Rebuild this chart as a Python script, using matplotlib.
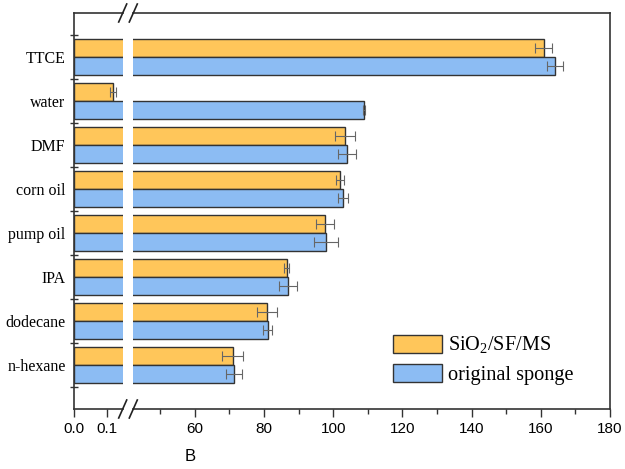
import matplotlib
matplotlib.use("Agg")
import matplotlib.pyplot as plt
from matplotlib.lines import Line2D
import numpy as np

# categories listed top to bottom
categories = ["TTCE", "water", "DMF", "corn oil", "pump oil", "IPA", "dodecane", "n-hexane"]
sio2 = [160.8, 0.12, 103.3, 101.9, 97.7, 86.6, 80.8, 70.9]
sio2_err = [2.4, 0.009, 2.9, 1.1, 2.6, 0.7, 2.9, 3.0]
orig = [164.1, 108.8, 104.1, 102.8, 97.9, 87.0, 81.0, 71.2]
orig_err = [2.3, 0.3, 2.6, 1.4, 3.4, 2.6, 1.25, 2.3]

orange = "#FFC65A"
blue = "#8CBCF3"
edge = "#333333"
ecol = "#666666"

plt.rcParams["xtick.labelsize"] = 11
plt.rcParams["font.family"] = "Liberation Sans"
plt.rcParams["mathtext.fontset"] = "custom"
plt.rcParams["mathtext.rm"] = "Liberation Serif"

n = len(categories)
y = np.arange(n)[::-1]
h = 0.41

fig = plt.figure(figsize=(6.25, 4.69), dpi=100)
bot, hgt = 60 / 469, 396 / 469
axL = fig.add_axes([74 / 625, bot, 48.7 / 625, hgt])
axR = fig.add_axes([133.3 / 625, bot, 476.7 / 625, hgt])

for ax in (axL, axR):
    ax.barh(y + h / 2, sio2, height=h, color=orange, edgecolor=edge, linewidth=1.0,
            label="SiO$_\\mathrm{2}$/SF/MS")
    ax.barh(y - h / 2, orig, height=h, color=blue, edgecolor=edge, linewidth=1.0,
            label="original sponge")
    ax.errorbar(sio2, y + h / 2, xerr=sio2_err, fmt="none", ecolor=ecol, elinewidth=0.8,
                capsize=3.5, capthick=0.8)
    ax.errorbar(orig, y - h / 2, xerr=orig_err, fmt="none", ecolor=ecol, elinewidth=0.8,
                capsize=3.5, capthick=0.8)
    ax.set_ylim(-1, 8)
    for s in ax.spines.values():
        s.set_linewidth(1.2)
        s.set_color(edge)
    ax.tick_params(axis="x", which="major", direction="out", length=6, width=1.0, color=edge)
    ax.tick_params(axis="x", which="minor", direction="out", length=3.5, width=1.0, color=edge)

axL.set_xlim(0, 0.149)
axL.set_xticks([0.0, 0.1])
axL.set_xticklabels(["0.0", "0.1"])
axL.spines["right"].set_visible(False)
axL.set_yticks(y)
axL.set_yticklabels(categories, family="Liberation Serif", fontsize=11.5)
axL.tick_params(axis="y", which="major", length=0, pad=6)
axL.set_yticks(np.arange(-0.5, n, 1), minor=True)
axL.tick_params(axis="y", which="minor", direction="inout", length=6, width=1.0, color=edge)

axR.set_xlim(42.2, 180)
axR.set_xticks(np.arange(60, 181, 20))
axR.set_xticks(np.arange(50, 180, 20), minor=True)
axR.spines["left"].set_visible(False)
axR.set_yticks([])
axR.set_xlabel("B", fontsize=12, labelpad=8)
axR.xaxis.set_label_coords(0.12, -0.1)

# break marks
for xe in (122.7, 133.3):
    for ye in (13, 409):
        xf, yf = xe / 625, 1 - ye / 469
        fig.add_artist(Line2D([xf - 4 / 625, xf + 4 / 625], [yf - 9 / 469, yf + 9 / 469],
                              color="#222222", lw=1.2))

leg = axR.legend(loc="lower left", bbox_to_anchor=(0.507, 0.014), frameon=False,
                 prop={"family": "Liberation Serif", "size": 14.6},
                 handlelength=2.4, handleheight=0.97, handletextpad=0.3, labelspacing=0.4)

fig.savefig("out.png", dpi=100)
